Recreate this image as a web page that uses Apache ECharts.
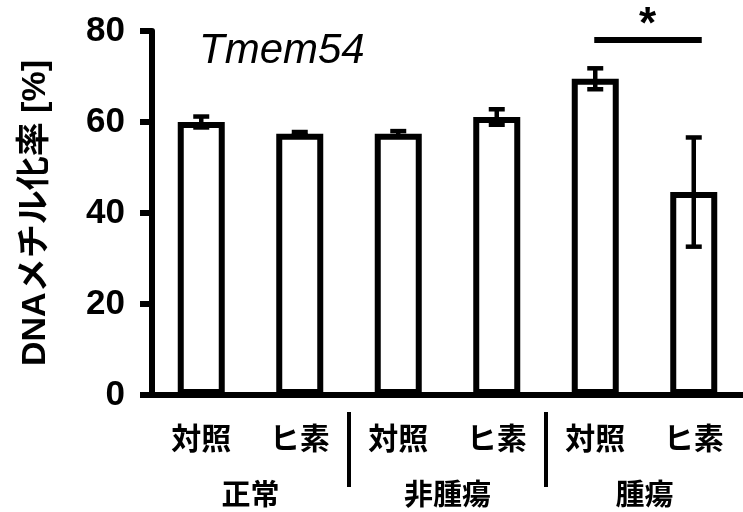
<!DOCTYPE html>
<html>
<head>
<meta charset="utf-8">
<script src="https://cdn.jsdelivr.net/npm/echarts@6/dist/echarts.min.js"></script>
<style>
html,body{margin:0;padding:0;background:#fff;}
#chart{width:743px;height:512px;}
</style>
</head>
<body>
<div id="chart"></div>
<script>
// ---- data ----
const categories = ['対照', 'ヒ素', '対照', 'ヒ素', '対照', 'ヒ素'];
const groups = ['正常', '非腫瘍', '腫瘍'];
const means = [60.0, 57.4, 57.4, 61.1, 69.5, 44.6];
const errors = [1.2, 0.4, 0.6, 1.7, 2.3, 12.0];
const yTicks = [0, 20, 40, 60, 80];
const separatorAfter = [1, 3];
const sigPairs = [[4, 5, 78]];
const sigMark = '*';
const geneName = 'Tmem54';
const yAxisTitle = 'DNAメチル化率 [%]';

const FONT = '"Liberation Sans", "Noto Sans CJK JP", sans-serif';
const chart = echarts.init(document.getElementById('chart'));

const errData = means.map((m, i) => [i, m, errors[i]]);

chart.setOption({
  animation: false,
  backgroundColor: '#fff',
  title: {
    text: geneName,
    left: 194,
    top: 25,
    textStyle: { fontFamily: FONT, fontStyle: 'italic', fontWeight: 'normal', fontSize: 42, color: '#000' }
  },
  grid: { left: 152, right: 0, top: 31, bottom: 114, containLabel: false },
  xAxis: [{
    type: 'category',
    data: categories,
    axisLine: { lineStyle: { color: '#000', width: 6 } },
    axisTick: { show: false },
    axisLabel: { margin: 31, fontFamily: FONT, fontWeight: 'bold', fontSize: 30, color: '#000' }
  }, {
    type: 'category',
    data: groups,
    position: 'bottom',
    axisLine: { show: false },
    axisTick: { show: false },
    axisLabel: { margin: 88, fontFamily: FONT, fontWeight: 'bold', fontSize: 29, color: '#000' }
  }],
  yAxis: {
    type: 'value',
    min: yTicks[0],
    max: yTicks[yTicks.length - 1],
    interval: yTicks[1] - yTicks[0],
    splitLine: { show: false },
    axisLine: { show: true, lineStyle: { color: '#000', width: 6 } },
    axisTick: { show: true, length: 12, lineStyle: { color: '#000', width: 6 } },
    axisLabel: { margin: 27, fontFamily: FONT, fontWeight: 'bold', fontSize: 35, color: '#000' },
    name: yAxisTitle,
    nameLocation: 'middle',
    nameRotate: 90,
    nameGap: 99,
    nameTextStyle: { fontFamily: FONT, fontWeight: 'bold', fontSize: 34, color: '#000' }
  },
  series: [{
    type: 'bar',
    data: means,
    barWidth: 47,
    itemStyle: { color: '#fff', borderColor: '#000', borderWidth: 6 },
    z: 2
  }, {
    type: 'custom',
    data: errData,
    z: 5,
    clip: false,
    renderItem: function (params, api) {
      const i = api.value(0), m = api.value(1), e = api.value(2);
      const hi = api.coord([i, m + e]);
      const lo = api.coord([i, m - e]);
      const cw = 8;
      const st = { stroke: '#000', lineWidth: 4.5 };
      return {
        type: 'group',
        children: [
          { type: 'line', shape: { x1: hi[0], y1: hi[1], x2: lo[0], y2: lo[1] }, style: st },
          { type: 'line', shape: { x1: hi[0] - cw, y1: hi[1], x2: hi[0] + cw, y2: hi[1] }, style: st },
          { type: 'line', shape: { x1: lo[0] - cw, y1: lo[1], x2: lo[0] + cw, y2: lo[1] }, style: st }
        ]
      };
    }
  }, {
    type: 'custom',
    data: separatorAfter.map(v => [v, 0]),
    z: 5,
    clip: false,
    renderItem: function (params, api) {
      const p = api.coord([api.value(0), 0]);
      const bw = api.size([1, 0])[0];
      const x = p[0] + bw / 2;
      return { type: 'line', shape: { x1: x, y1: p[1] + 17, x2: x, y2: p[1] + 92 }, style: { stroke: '#000', lineWidth: 4 } };
    }
  }, {
    type: 'custom',
    data: sigPairs,
    z: 5,
    clip: false,
    renderItem: function (params, api) {
      const a = api.coord([api.value(0), api.value(2)]);
      const b = api.coord([api.value(1), api.value(2)]);
      return {
        type: 'group',
        children: [
          { type: 'line', shape: { x1: a[0] - 1, y1: a[1], x2: b[0] + 8, y2: b[1] }, style: { stroke: '#000', lineWidth: 6 } },
          { type: 'text', style: { text: sigMark, x: (a[0] + b[0]) / 2 + 3, y: a[1] - 14, align: 'center', verticalAlign: 'middle', font: 'bold 44px "Liberation Sans", sans-serif', fill: '#000' } }
        ]
      };
    }
  }]
});
</script>
</body>
</html>
